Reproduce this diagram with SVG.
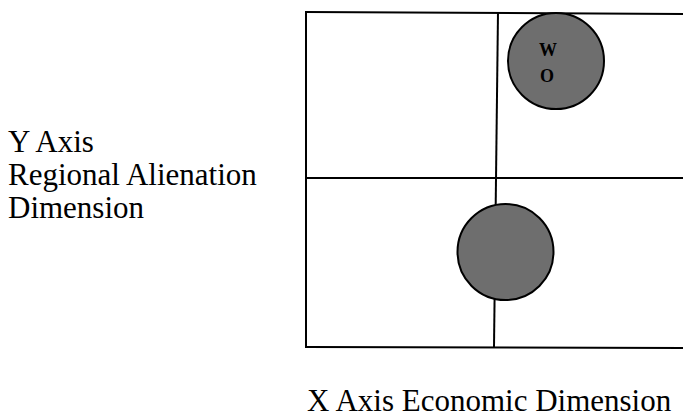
<svg xmlns="http://www.w3.org/2000/svg" width="683" height="419" viewBox="0 0 683 419">
<style>
.ln{stroke:#000;stroke-width:2;fill:none}
.lbl{font-family:"Liberation Serif",serif;font-size:31px;fill:#000}
.dot{fill:#6e6e6e;stroke:#000;stroke-width:2}
.sm{font-family:"Liberation Serif",serif;font-size:18px;font-weight:bold;fill:#000;text-anchor:middle}
</style>
<rect width="683" height="419" fill="#fff"/>
<g id="connectors">
<line class="ln" x1="306" y1="12" x2="683" y2="14"/>
<line class="ln" x1="306" y1="11" x2="306" y2="348"/>
<line class="ln" x1="498" y1="12" x2="494" y2="347"/>
<line class="ln" x1="306" y1="178" x2="683" y2="178"/>
<line class="ln" x1="306" y1="347" x2="683" y2="348"/>
</g>
<g id="circle-wo">
<circle class="dot" cx="556" cy="61" r="48"/>
<text class="sm" x="548" y="56">W</text>
<text class="sm" x="547" y="82">O</text>
</g>
<g id="circle-lower">
<circle class="dot" cx="505.5" cy="252" r="48"/>
</g>
<g id="y-label">
<text class="lbl" x="8" y="152">Y Axis</text>
<text class="lbl" x="8" y="185">Regional Alienation</text>
<text class="lbl" x="8" y="218">Dimension</text>
</g>
<g id="x-label">
<text class="lbl" x="307" y="411">X Axis Economic Dimension</text>
</g>
</svg>
